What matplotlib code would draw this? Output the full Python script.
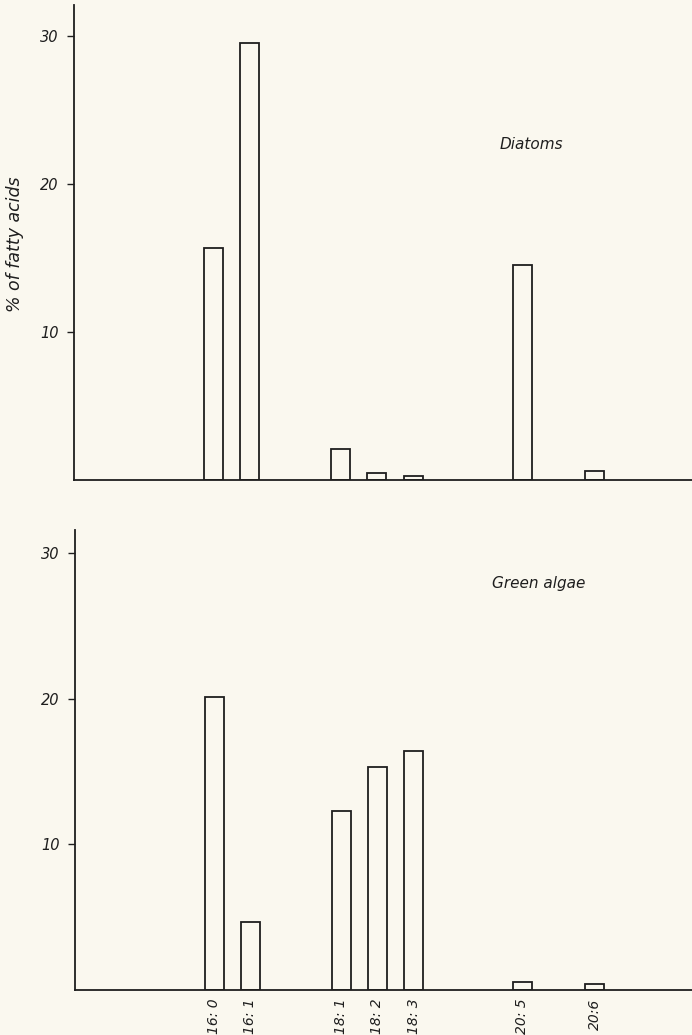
import matplotlib.pyplot as plt
from matplotlib.transforms import ScaledTranslation

# fatty acids, percent of total
acids = ['16: 0', '16: 1', '18: 1', '18: 2', '18: 3', '20: 5', '20:6']
diatoms = [15.7, 29.5, 2.1, 0.5, 0.25, 14.5, 0.6]
green_algae = [20.1, 4.7, 12.3, 15.3, 16.4, 0.55, 0.4]
yticks = [10, 20, 30]

# spacing along x (grouped by chain length)
xpos = [0, 1, 3.5, 4.5, 5.5, 8.5, 10.5]

bg = '#faf8ef'
ink = '#1e1e1e'

fig = plt.figure(figsize=(6.92, 10.35), dpi=100, facecolor=bg)
ax1 = fig.add_axes([74/692, 555/1035, 618/692, 475/1035])
ax2 = fig.add_axes([75/692, 45/1035, 617/692, 460/1035])

def panel(ax, values, ytop, name, tx, ty):
    ax.set_facecolor(bg)
    ax.bar(xpos, values, width=0.52, facecolor=bg, edgecolor=ink, linewidth=1.3)
    ax.set_xlim(-3.84, 13.18)
    ax.set_ylim(0, ytop)
    ax.set_yticks(yticks)
    ax.set_yticklabels([str(t) for t in yticks], fontsize=10.5, style='italic', color=ink)
    for lab in ax.get_yticklabels():
        lab.set_transform(lab.get_transform() + ScaledTranslation(0, 4/72, fig.dpi_scale_trans))
    ax.tick_params(axis='y', direction='out', length=5, width=1, color=ink, pad=6)
    ax.tick_params(axis='x', length=0)
    for s in ['top', 'right']:
        ax.spines[s].set_visible(False)
    for s in ['left', 'bottom']:
        ax.spines[s].set_color(ink)
        ax.spines[s].set_linewidth(1.3)
    ax.text(tx, ty, name, transform=ax.transAxes, fontsize=11, style='italic',
            color=ink, ha='left', va='center')

panel(ax1, diatoms, 32.1, 'Diatoms', 0.688, 0.707)
ax1.set_xticks([])

panel(ax2, green_algae, 31.6, 'Green algae', 0.676, 0.883)
ax2.set_xticks(xpos)
ax2.set_xticklabels(acids, rotation=90, fontsize=10, style='italic', color=ink)
ax2.tick_params(axis='x', pad=6)

fig.text(15/692, 1 - 244/1035, '% of fatty acids', rotation=90, fontsize=12.5,
         style='italic', color=ink, ha='center', va='center')

fig.savefig('out.png', dpi=100, facecolor=bg)
